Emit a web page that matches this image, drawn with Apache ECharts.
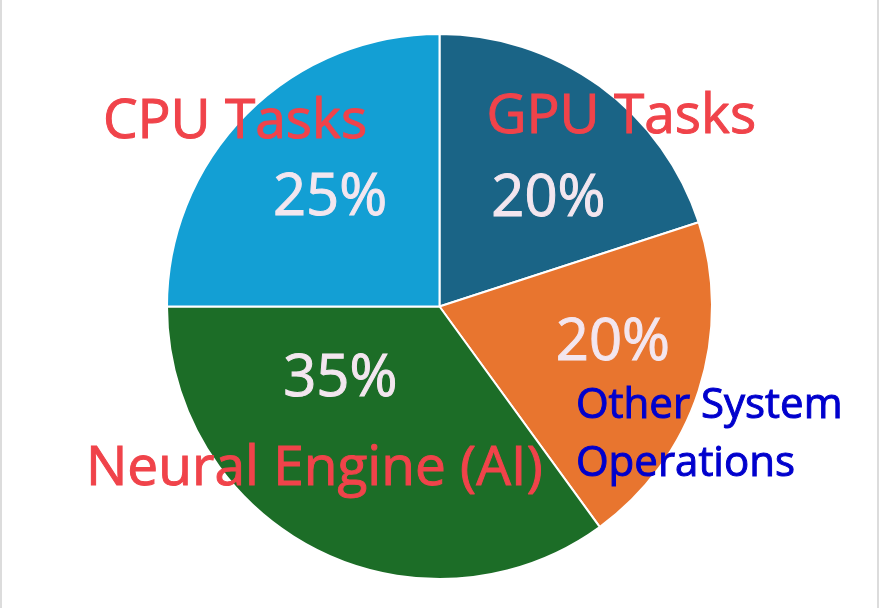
<!DOCTYPE html>
<html>
<head>
<meta charset="utf-8">
<script src="https://cdn.jsdelivr.net/npm/echarts@6/dist/echarts.min.js"></script>
<style>
html,body{margin:0;padding:0;background:#fff;}
#wrap{width:875px;height:608px;border-left:2px solid #dcdcdc;border-right:2px solid #dcdcdc;}
#chart{width:875px;height:608px;}
</style>
</head>
<body>
<div id="wrap"><div id="chart"></div></div>
<script>
const categories = ['GPU Tasks', 'Other System\nOperations', 'Neural Engine (AI)', 'CPU Tasks'];
const values = [20, 20, 35, 25];
const sliceColors = ['#1a6486', '#e8752f', '#1c6d27', '#139fd4'];
const nameColors = ['#f0434a', '#0000cd', '#f0434a', '#f0434a'];
const pctColor = '#f3e6ef';

const pctShift = [[27, 6], [41, -6], [-36, -51], [-11, -10]];
const nameShift = [[100, -77], [4, 86], [-62, 39], [-106, -86]];

const data = categories.map((c, i) => ({ name: c, value: values[i] }));
const font = '"Open Sans", "Noto Sans", sans-serif';

const chart = echarts.init(document.getElementById('chart'));
const common = {
  type: 'pie',
  center: [437.5, 306.5],
  radius: [0, 272.5],
  startAngle: 90,
  clockwise: true,
  animation: false
};
chart.setOption({
  backgroundColor: '#fff',
  series: [
    Object.assign({}, common, {
      data: data.map((d, i) => ({ name: d.name, value: d.value, itemStyle: { color: sliceColors[i] } })),
      itemStyle: { borderColor: '#fff', borderWidth: 2 },
      label: {
        show: true, position: 'inside', formatter: '{d}%',
        color: pctColor, fontSize: 58, fontFamily: font,
        textBorderColor: pctColor, textBorderWidth: 1
      },
      labelLine: { show: false },
      labelLayout: p => ({ dx: pctShift[p.dataIndex][0], dy: pctShift[p.dataIndex][1] })
    }),
    Object.assign({}, common, {
      silent: true,
      z: 5,
      data: data.map((d, i) => ({
        name: d.name, value: d.value,
        label: {
          color: nameColors[i], textBorderColor: nameColors[i],
          fontSize: i === 1 ? 42 : 55, lineHeight: i === 1 ? 58 : 66
        }
      })),
      itemStyle: { color: 'rgba(0,0,0,0)' },
      label: { show: true, position: 'inside', formatter: '{b}', fontFamily: font, textBorderWidth: 1 },
      labelLine: { show: false },
      labelLayout: p => p.dataIndex === 1
        ? { dx: nameShift[1][0], dy: nameShift[1][1], align: 'left' }
        : { dx: nameShift[p.dataIndex][0], dy: nameShift[p.dataIndex][1] }
    })
  ]
});
</script>
</body>
</html>
